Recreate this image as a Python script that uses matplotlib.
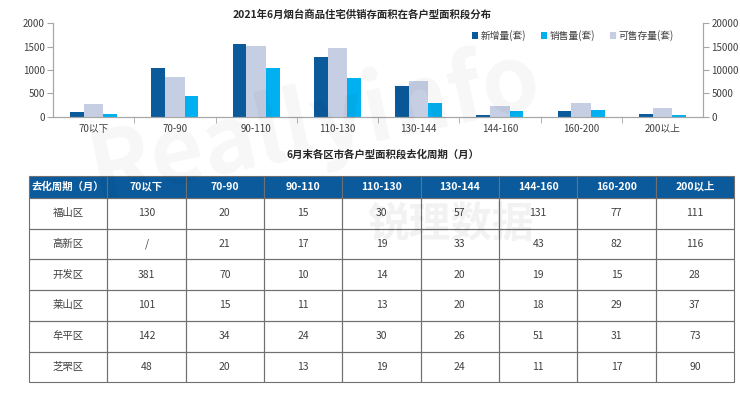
import numpy as np
import matplotlib.pyplot as plt

plt.rcParams['font.family'] = ['Noto Sans CJK SC', 'DejaVu Sans']

# bar chart data
categories = ['70以下', '70-90', '90-110', '110-130', '130-144', '144-160', '160-200', '200以上']
new_supply = [100, 1035, 1565, 1270, 665, 30, 115, 65]      # 新增量(套), left axis
sold = [50, 450, 1035, 820, 300, 115, 150, 45]              # 销售量(套), left axis
stock = [2700, 8500, 15050, 14800, 7700, 2200, 2850, 1950]  # 可售存量(套), right axis

# table data
districts = ['福山区', '高新区', '开发区', '莱山区', '牟平区', '芝罘区']
cycle = [
    ['130', '20', '15', '30', '57', '131', '77', '111'],
    ['/', '21', '17', '19', '33', '43', '82', '116'],
    ['381', '70', '10', '14', '20', '19', '15', '28'],
    ['101', '15', '11', '13', '20', '18', '29', '37'],
    ['142', '34', '24', '30', '26', '51', '31', '73'],
    ['48', '20', '13', '19', '24', '11', '17', '90'],
]

c_dark = '#0A5A9C'
c_cyan = '#00B0F0'
c_lav = '#C5CEE3'
c_text = '#404040'
c_spine = '#a6a6a6'

W, H = 740, 398
fig = plt.figure(figsize=(W / 100, H / 100), dpi=100)

# ---- bar chart ----
ax = fig.add_axes([53 / W, 1 - 116.7 / H, 650 / W, 93.4 / H])
ax2 = ax.twinx()
x = np.arange(len(categories))
b1 = ax.bar(x - 0.205, new_supply, 0.17, color=c_dark, label='新增量(套)')
b2 = ax.bar(x + 0.205, sold, 0.17, color=c_cyan, label='销售量(套)')
b3 = ax2.bar(x, stock, 0.24, color=c_lav, label='可售存量(套)')

ax.set_xlim(-0.5, len(categories) - 0.5)
ax.set_ylim(0, 2000)
ax2.set_ylim(0, 20000)
ax.set_yticks(range(0, 2001, 500))
ax2.set_yticks(range(0, 20001, 5000))
ax.set_xticks(x)
ax.set_xticklabels(categories)
ax.set_xticks(x[:-1] + 0.5, minor=True)
ax.tick_params(axis='x', which='major', length=0, pad=5, labelsize=7, labelcolor=c_text)
ax.tick_params(axis='x', which='minor', length=4, color=c_spine)
ax.tick_params(axis='y', length=4, color=c_spine, labelsize=7, labelcolor=c_text, pad=2)
ax2.tick_params(axis='y', length=4, color=c_spine, labelsize=7, labelcolor=c_text, pad=2)
for a in (ax, ax2):
    a.spines['top'].set_visible(False)
    for s in ('left', 'right', 'bottom'):
        a.spines[s].set_color(c_spine)
        a.spines[s].set_linewidth(0.8)

fig.text(362 / W, 1 - 14 / H, '2021年6月烟台商品住宅供销存面积在各户型面积段分布',
         ha='center', va='center', fontsize=7.5, fontweight='bold', color='#262626')

fig.legend([b1, b2, b3], [b1.get_label(), b2.get_label(), b3.get_label()],
           loc='center left', bbox_to_anchor=(472 / W, 1 - 35.5 / H), ncol=3,
           frameon=False, fontsize=7, handlelength=0.6, handleheight=0.6,
           handletextpad=0.3, columnspacing=1.5, borderpad=0, borderaxespad=0,
           labelcolor=c_text)

# ---- table ----
fig.text(383 / W, 1 - 155 / H, '6月末各区市各户型面积段去化周期（月）',
         ha='center', va='center', fontsize=7.5, fontweight='bold', color='#262626')

tax = fig.add_axes([29 / W, 1 - 382.3 / H, 705 / W, 206.6 / H])
tax.axis('off')
rows = [[d] + r for d, r in zip(districts, cycle)]
tbl = tax.table(cellText=rows, colLabels=['去化周期（月）'] + categories,
                cellLoc='center', bbox=[0, 0, 1, 1])
tbl.auto_set_font_size(False)
tbl.set_fontsize(7.5)
for (r, c), cell in tbl.get_celld().items():
    cell.set_height(22 if r == 0 else 30.7)
    cell.set_edgecolor('#707070')
    cell.set_linewidth(0.8)
    if r == 0:
        cell.set_facecolor(c_dark)
        cell.get_text().set_color('white')
        cell.get_text().set_fontweight('bold')
    else:
        cell.set_facecolor('none')
        cell.get_text().set_color(c_text)

# faint watermark
fig.text(315 / W, 1 - 125 / H, 'Reallyinfo', ha='center', va='center', fontsize=66,
         fontweight='bold', rotation=12, color='black', alpha=0.035)
fig.text(450 / W, 1 - 225 / H, '锐理数据', ha='center', va='center', fontsize=30,
         fontweight='bold', color='black', alpha=0.05)

fig.savefig('out.png', dpi=100)
